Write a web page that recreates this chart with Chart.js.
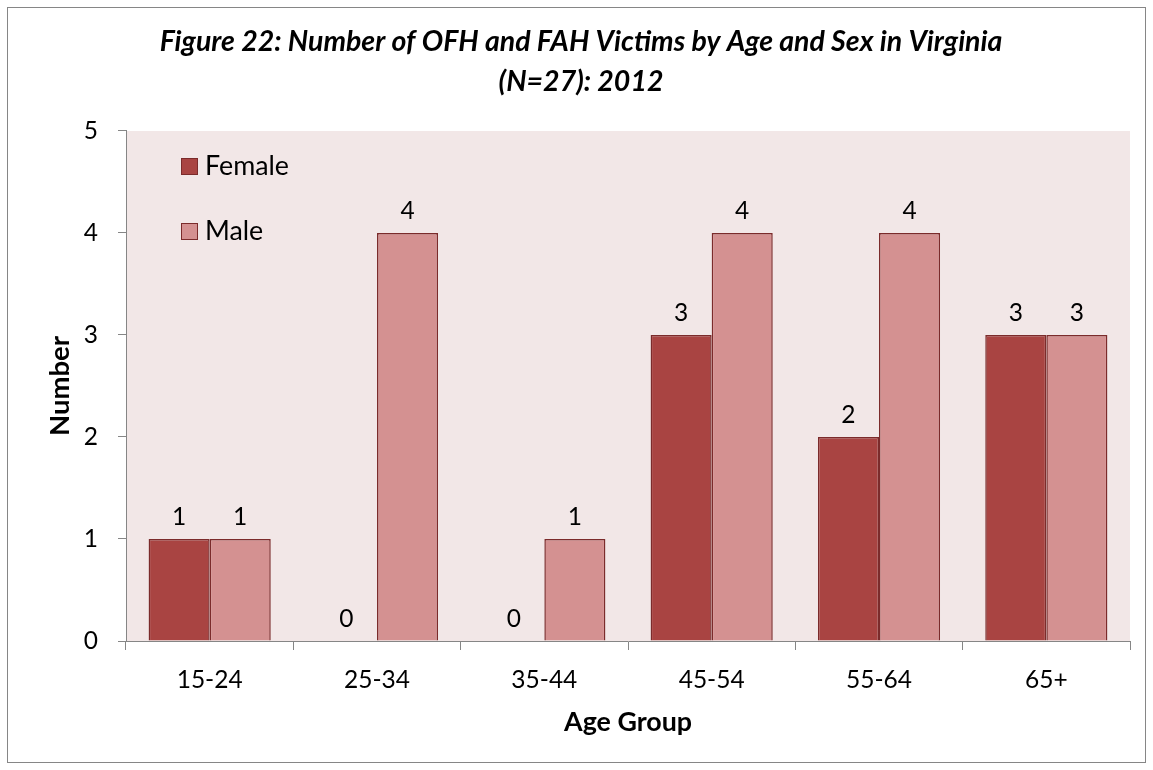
<!DOCTYPE html>
<html>
<head>
<meta charset="utf-8">
<script src="https://cdn.jsdelivr.net/npm/chart.js@4"></script>
<style>
html,body{margin:0;padding:0;background:#fff;}
</style>
</head>
<body>
<canvas id="c" width="1153" height="770"></canvas>
<script>
const categories = ["15-24", "25-34", "35-44", "45-54", "55-64", "65+"];
const femaleValues = [1, 0, 0, 3, 2, 3];
const maleValues = [1, 4, 1, 4, 4, 3];
const yTicks = [0, 1, 2, 3, 4, 5];
const seriesNames = ["Female", "Male"];
const titleLines = ["Figure 22: Number of OFH and FAH Victims by Age and Sex in Virginia", "(N=27): 2012"];

const FONT = "Lato, 'Open Sans', sans-serif";
const COLORS = ["#A94442", "#D49191"];
const BORDER = "#7B2B2B";

const mc = document.createElement('canvas').getContext('2d');
function fit(text, style, target) {
  mc.font = style + " 100px " + FONT;
  return 100 * target / mc.measureText(text).width;
}
const S = {
  tick: fit("15-24", "normal", 66),
  title: fit(titleLines[0], "italic bold", 843),
  num: fit("Number", "bold", 100),
  age: fit("Age Group", "bold", 128),
  leg: fit("Female", "normal", 84)
};

const decor = {
  id: 'decor',
  beforeDraw(chart) {
    const {ctx, chartArea: a} = chart;
    ctx.save();
    ctx.fillStyle = '#fff';
    ctx.fillRect(0, 0, chart.width, chart.height);
    ctx.fillStyle = '#F2E7E7';
    ctx.fillRect(a.left, a.top, a.right - a.left, a.bottom - a.top);
    ctx.strokeStyle = '#868686';
    ctx.lineWidth = 1;
    ctx.strokeRect(7.5, 7.5, chart.width - 15, chart.height - 15);
    ctx.restore();
  },
  afterDatasetsDraw(chart) {
    const {ctx} = chart;
    ctx.save();
    ctx.font = S.tick + "px " + FONT;
    ctx.fillStyle = '#000';
    ctx.textAlign = 'center';
    ctx.textBaseline = 'alphabetic';
    chart.data.datasets.forEach((ds, i) => {
      const meta = chart.getDatasetMeta(i);
      meta.data.forEach((bar, j) => {
        ctx.fillText(String(ds.data[j]), bar.x, bar.y - 14);
      });
    });
    // legend
    ctx.textAlign = 'left';
    ctx.font = S.leg + "px " + FONT;
    const boxTops = [158, 223];
    const baselines = [175, 239.5];
    chart.data.datasets.forEach((ds, i) => {
      ctx.fillStyle = ds.backgroundColor;
      ctx.fillRect(181, boxTops[i], 17, 17);
      ctx.strokeStyle = BORDER;
      ctx.lineWidth = 1;
      ctx.strokeRect(181.5, boxTops[i] + 0.5, 16, 16);
      ctx.fillStyle = '#000';
      ctx.fillText(ds.label, 205, baselines[i]);
    });
    ctx.restore();
  }
};

new Chart(document.getElementById('c'), {
  type: 'bar',
  data: {
    labels: categories,
    datasets: [
      {label: seriesNames[0], data: femaleValues, backgroundColor: COLORS[0], borderColor: BORDER, borderWidth: 1.5, categoryPercentage: 0.73, barPercentage: 1},
      {label: seriesNames[1], data: maleValues, backgroundColor: COLORS[1], borderColor: BORDER, borderWidth: 1.5, categoryPercentage: 0.73, barPercentage: 1}
    ]
  },
  options: {
    responsive: false,
    animation: false,
    devicePixelRatio: 1,
    layout: {padding: {top: 12, left: 32, right: 23, bottom: 30}},
    plugins: {
      legend: {display: false},
      tooltip: {enabled: false},
      title: {
        display: true,
        text: titleLines,
        color: '#000',
        font: {family: FONT, size: S.title, weight: 'bold', style: 'italic', lineHeight: 1.4},
        padding: {top: 10, bottom: 29.2}
      }
    },
    scales: {
      x: {
        grid: {display: true, drawOnChartArea: false, drawTicks: true, tickLength: 9, color: '#868686', offset: true},
        border: {color: '#868686'},
        ticks: {color: '#000', font: {family: FONT, size: S.tick}, padding: 15.4},
        title: {display: true, text: 'Age Group', color: '#000', font: {family: FONT, size: S.age, weight: 'bold'}, padding: {top: 4, bottom: 1.3}},
        afterFit(s) { s.height = 770 - 30 - 641; }
      },
      y: {
        min: 0, max: 5,
        afterBuildTicks(s) { s.ticks = yTicks.map(v => ({value: v})); },
        grid: {display: true, drawOnChartArea: false, drawTicks: true, tickLength: 8, color: '#868686'},
        border: {color: '#868686'},
        ticks: {color: '#000', font: {family: FONT, size: S.tick}, padding: 20},
        title: {display: true, text: 'Number', color: '#000', font: {family: FONT, size: S.num, weight: 'bold'}, padding: {top: 11.5}},
        afterFit(s) { s.width = 126 - 32; }
      }
    }
  },
  plugins: [decor]
});
</script>
</body>
</html>
